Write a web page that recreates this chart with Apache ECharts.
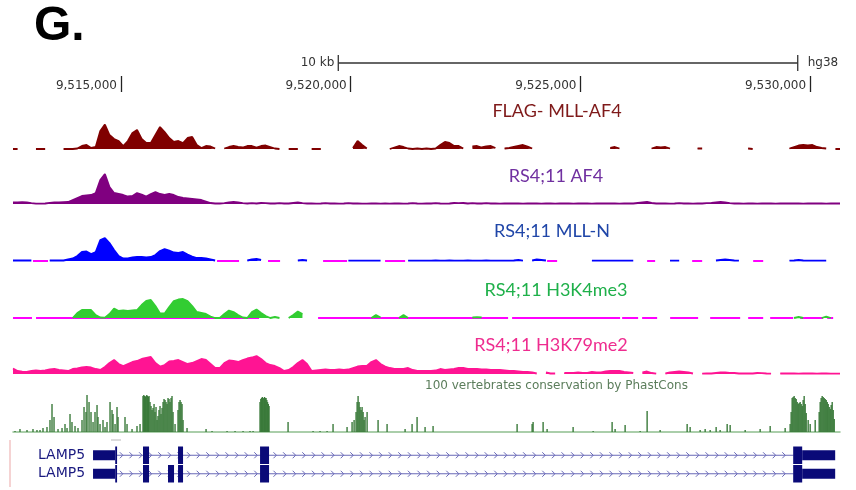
<!DOCTYPE html>
<html><head><meta charset="utf-8">
<script src="https://cdn.jsdelivr.net/npm/echarts@6/dist/echarts.min.js"></script>
<style>html,body{margin:0;padding:0;background:#fff}#c{width:856px;height:490px}</style>
</head><body><div id="c"></div>
<script>
// ---------------- DATA ----------------
const X_MIN = 9512650, X_MAX = 9530650;      // visible genomic window (hg38, chr20)
const BIN_START = 9512650, BIN_SIZE = 100;   // signal bins (bp)
const rulerTicks = [9515000, 9520000, 9525000, 9530000];
const scaleBar = [9519730, 9529730];
const scaleLabel = '10 kb';
const assembly = 'hg38';
const panelLetter = 'G.';
const trackLabels = ['FLAG- MLL-AF4', 'RS4;11 AF4', 'RS4;11 MLL-N', 'RS4;11 H3K4me3', 'RS4;11 H3K79me2'];
const consLabel = '100 vertebrates conservation by PhastCons';
const geneRows = ['LAMP5', 'LAMP5'];

const flagValues = [
  0, 0, null, null, null, 0, 0, 0, null, null,
  null, 0, 0, 0, 0.5, 3, 4, 1, 2, 18,
  24.5, 14, 10, 8, 3, 8, 16, 19, 10, 6,
  6, 14, 22, 17, 11, 7, 8, 6, 11, 12,
  4, 1, 3, 2.5, 0.5, null, 0.5, 2, 3, 2,
  1.5, 3, 3, 1.5, 3, 3.5, 2, 0.5, 0, null,
  0, 0, 0, null, null, 0, 0, 0, null, null,
  null, null, null, null, 1, 8, 4, 0.5, null, null,
  null, null, 0, 1.5, 3, 2, 0.5, 0, 0.5, 0,
  0.5, 0, 0.5, 4, 7, 6, 3, 3, 0.5, null,
  2.5, 3, 1.5, 2.5, 3, 1, null, 0.5, 1, 2,
  3, 4, 2.5, 0.5, null, null, null, null, null, null,
  null, null, null, null, null, null, null, null, null, null,
  1, 2, 0.5, null, null, null, null, null, null, 0.5,
  2, 1.5, 2, 0.5, null, null, null, null, null, 0.5,
  0.5, null, null, null, null, null, null, null, null, null,
  0.5, 0, null, null, null, null, null, null, null, 0.5,
  2, 3.5, 4, 3.5, 4, 2, 1, 0.5, null, 0, 0
];

const af4Values = [
  1.5, 1.5, 1.8, 1.5, 0.8, 0.3, 0.3, 0.5, 1.2, 1.5,
  1.5, 1.8, 2, 4, 6, 8, 8.5, 9, 11, 24,
  30, 17, 11, 10, 9, 7.5, 8, 11, 9.5, 7.5,
  10, 12, 10, 9, 10, 9, 7, 6, 5.5, 5,
  4.5, 4, 2.5, 1, 0.5, 0.5, 0.8, 1.5, 2, 1.5,
  0.8, 0.5, 0.8, 0.5, 1, 0.8, 0.5, 0.5, 0.8, 0.5,
  0.5, 1, 1.5, 0.8, 0.5, 0.5, 0.3, 0.5, 0.8, 0.5,
  0.5, 0.3, 0.5, 0.8, 0.5, 0.5, 0.3, 0.3, 0.5, 0.5,
  0.3, 0.5, 0.3, 0.5, 0.5, 0.3, 0.5, 0.8, 0.5, 0.3,
  0.5, 0.5, 0.8, 0.5, 0.3, 0.5, 1, 0.8, 1, 0.5,
  0.8, 0.5, 0.5, 0.8, 0.5, 0.5, 0.3, 0.5, 0.5, 0.5,
  0.5, 0.3, 0.5, 0.5, 0.5, 0.3, 0.5, 0.5, 0.3, 0.5,
  0.5, 0.5, 0.3, 0.5, 0.5, 0.5, 0.3, 0.5, 0.5, 0.5,
  0.5, 0.5, 0.3, 0.5, 0.5, 0.5, 1, 1.5, 2, 1,
  0.5, 0.5, 0.5, 0.3, 0.5, 0.8, 0.5, 0.5, 0.3, 0.5,
  0.5, 0.8, 1, 1.5, 2, 1.5, 0.8, 0.5, 0.5, 0.3,
  0.5, 0.5, 0.3, 0.5, 0.5, 0.5, 0.3, 0.5, 0.5, 0.5,
  0.5, 0.5, 0.3, 0.5, 0.5, 0.5, 0.5, 0.3, 0.5, 0.5, 0.5
];

const mllnValues = [
  0.5, 0.5, 0.5, 0.5, 0.5, null, null, null, 0.5, 0.5,
  0.5, 0.5, 1.5, 2.5, 5, 9, 9.5, 7, 9, 21,
  23, 18, 11, 5, 2.5, 2.5, 3.5, 4, 4, 3.5,
  4, 6, 10, 12, 10.5, 8.5, 8, 9, 6.5, 4.5,
  3, 3, 2.5, 1.5, 0.5, null, null, null, null, null,
  null, 0.5, 1.5, 2, 1, null, null, null, null, null,
  null, null, 0.5, 1, 0.5, null, null, null, null, null,
  null, null, null, 0.3, 0.3, 0.3, 0.3, 0.3, 0.3, 0.3,
  0.3, null, null, null, null, null, 0.3, 0.3, 0.3, 0.3,
  0.3, 0.3, 0.5, 0.3, 0.3, 0.5, 0.3, 0.3, 0.3, 0.5,
  0.3, 0.3, 0.3, 0.5, 0.3, 0.3, 0.3, 0.3, 0.3, 0.5,
  1, 0.3, null, 0.5, 1.5, 1, 0.5, null, null, null,
  null, null, null, null, null, null, 0.3, 0.3, 0.3, 0.3,
  0.3, 0.3, 0.3, 0.3, 0.3, 0.3, null, null, null, null,
  null, null, null, 0.3, 0.3, 0.3, null, null, null, null,
  null, null, null, 0.5, 1, 1.5, 1, 0.5, 0.3, null,
  null, null, null, null, null, null, null, null, null, 0.3,
  0.5, 1, 0.5, 0.3, 0.3, 0.3, 0.3, 0.3, null, null, null
];
const mllnMagentaSegs = [
  [9513085, 9513412], [9517091, 9517570], [9518201, 9518463], [9519399, 9519921],
  [9520748, 9521184], [9524275, 9524493], [9526452, 9526626], [9527432, 9527650],
  [9528760, 9528978]
];

const k4Values = [
  null, null, null, null, null, null, null, null, null, null,
  null, null, null, 0, 5, 8, 8, 8, 3, 0.5,
  0.3, 4, 9.5, 7, 7.5, 7, 7.5, 8, 13, 17,
  18, 12, 4.5, 4.5, 11, 17, 18.5, 19, 17, 12,
  6, 5, 4, 1.5, 0, 0, 4, 7.5, 6, 3,
  0.5, 0, 6, 8.5, 5, 2, 0, 1, 0, null,
  0, 3, 6.5, 4, null, null, null, null, null, null,
  null, null, null, null, null, null, null, null, 0, 3,
  0.5, null, null, null, 0, 3, 0, null, null, null,
  null, null, null, null, null, null, null, null, null, null,
  0.5, 0.8, 0.5, null, null, null, null, null, null, null,
  null, null, null, null, null, null, null, null, null, null,
  null, null, null, null, null, null, null, null, null, null,
  null, null, null, null, null, null, null, null, null, null,
  null, null, null, null, null, null, null, null, null, null,
  null, null, null, null, null, null, null, null, null, null,
  null, null, null, null, null, null, null, null, null, null,
  0, 1, 0, null, null, null, 0, 1.5, 0, null, null
];
const k4MagentaSegs = [
  [9512650, 9513063], [9513151, 9518007], [9519290, 9523426], [9523513, 9525864],
  [9525908, 9526256], [9526343, 9526670], [9526953, 9527562], [9527824, 9528477],
  [9528651, 9528978], [9529130, 9529631], [9529783, 9530284], [9530371, 9530501]
];

const k79Values = [
  5.5, 3, 2.3, 2, 3, 3.5, 3, 3.5, 4.5, 5,
  4, 3.5, 3, 5, 5.5, 6.5, 7, 6.5, 5, 4,
  7, 11, 14, 10, 8, 10, 12, 13, 15, 16,
  17, 11, 7.5, 9, 12.5, 13, 14, 12, 10, 11,
  13, 15, 14, 10, 6, 6, 11, 13.5, 13, 12,
  14, 15.5, 16.5, 18, 15, 11, 9, 8, 6, 3,
  4, 7, 11, 14, 10, 3, 3.5, 4, 4.5, 4,
  4, 4.5, 4, 4.5, 6, 7.5, 8, 8, 12, 14,
  10, 7.5, 6, 5, 5, 5, 6, 4, 3, 3,
  3, 3, 3.5, 5, 4, 4.5, 5, 6, 6, 5,
  5, 5, 4.5, 4.5, 4, 4, 4, 3.5, 3, 3,
  2.5, 2, 2, 1.5, 0.5, null, 1.5, 0.5, 0.5, null,
  1, 1, 1, 1.5, 1, 1, 2, 1.5, 1.5, 2.5,
  3, 3, 3, 2, 1.5, 1, null, 1.5, 2.5, 1,
  0.3, null, 0.5, 1.5, 2, 2.5, 2, 1.5, 0.5, null,
  0.3, 0.5, 0.5, 1, 1.5, 1.5, 1, 1, 0.5, 0.5,
  0.5, 0.5, 1, 0.8, 0.5, 0.3, null, 0.5, 0.5, 0.5,
  0.5, 0.3, 0.5, 0.5, 0.5, 0.3, 0.5, 0.5, 0.3, 0.3, 0.3
];

const consData = [
  [9512694, 1], [9512802, 3], [9512955, 2], [9513085, 3], [9513172, 2], [9513238, 2],
  [9513303, 4], [9513390, 5], [9513455, 12], [9513499, 28], [9513543, 15], [9513630, 3],
  [9513717, 4], [9513782, 8], [9513826, 4], [9513891, 18], [9513934, 10], [9514000, 6],
  [9514065, 4], [9514152, 12], [9514196, 25], [9514239, 20], [9514261, 37], [9514305, 30],
  [9514348, 20], [9514392, 10], [9514435, 20], [9514479, 27], [9514500, 15], [9514544, 8],
  [9514609, 12], [9514653, 5], [9514696, 10], [9514762, 30], [9514805, 22], [9514827, 18],
  [9514871, 8], [9514914, 25], [9514936, 15], [9515088, 15], [9515132, 8], [9515241, 3],
  [9515349, 6], [9515415, 8], [9515480, 36], [9515497, 37], [9515513, 36], [9515530, 35],
  [9515545, 36], [9515562, 37], [9515578, 36], [9515595, 35], [9515611, 36], [9515632, 30],
  [9515654, 26], [9515676, 22], [9515698, 24], [9515720, 28], [9515741, 20], [9515763, 25],
  [9515785, 12], [9515806, 16], [9515828, 22], [9515850, 26], [9515872, 18], [9515894, 24],
  [9515916, 30], [9515937, 33], [9515959, 32], [9515981, 30], [9516003, 28], [9516024, 34],
  [9516046, 33], [9516068, 30], [9516090, 34], [9516111, 36], [9516133, 20], [9516177, 8],
  [9516242, 22], [9516264, 30], [9516286, 32], [9516307, 30], [9516329, 28], [9516351, 12],
  [9516438, 4], [9516852, 3], [9516982, 1], [9517309, 1],
  [9517483, 1], [9517657, 1], [9517809, 1], [9517875, 1], [9518027, 30], [9518044, 33], [9518060, 34],
  [9518077, 35], [9518093, 33], [9518109, 34], [9518125, 35], [9518142, 34], [9518158, 34],
  [9518174, 32], [9518190, 30], [9518207, 28], [9518223, 26], [9518637, 10],
  [9519181, 1], [9519333, 1], [9519486, 1], [9519616, 8], [9519921, 5], [9520030, 10],
  [9520074, 12], [9520117, 20], [9520140, 30], [9520161, 36], [9520183, 30], [9520204, 25],
  [9520226, 22], [9520248, 25], [9520270, 20], [9520291, 12],
  [9520313, 15], [9520357, 20], [9520596, 12], [9520792, 8], [9521184, 3], [9521336, 8],
  [9521445, 15], [9521619, 5], [9521793, 6], [9523622, 8], [9523949, 8], [9523970, 10],
  [9524188, 10], [9524275, 3], [9524841, 5], [9525277, 1], [9525690, 10], [9525755, 3],
  [9525973, 7], [9526300, 1], [9526452, 21], [9526735, 2], [9527323, 8], [9527388, 5],
  [9527606, 2], [9527715, 3], [9527824, 2], [9527954, 5], [9528041, 2], [9528194, 8],
  [9528259, 7], [9528586, 2], [9528912, 3], [9529130, 6], [9529456, 4], [9529565, 8],
  [9529587, 20], [9529609, 34], [9529630, 35], [9529652, 36], [9529674, 34], [9529696, 33],
  [9529718, 30], [9529740, 28], [9529761, 29], [9529783, 30], [9529805, 28], [9529827, 26],
  [9529848, 32], [9529870, 36], [9529892, 28], [9529914, 19], [9529957, 12], [9530001, 8],
  [9530110, 12], [9530197, 20], [9530219, 30], [9530240, 34],
  [9530262, 36], [9530284, 35], [9530306, 34], [9530328, 33], [9530350, 32], [9530372, 30],
  [9530393, 28], [9530415, 25], [9530437, 23], [9530458, 27], [9530480, 30], [9530502, 22],
  [9530524, 13]
];

// exons: [start, end, row, coding(1)/UTR(0)]
const geneExons = [
  [9514392, 9514875, 0, 0], [9514875, 9514915, 0, 1], [9515480, 9515611, 0, 1],
  [9516242, 9516351, 0, 1], [9518027, 9518223, 0, 1], [9529631, 9529827, 0, 1],
  [9529827, 9530545, 0, 0],
  [9514392, 9514875, 1, 0], [9514875, 9514915, 1, 1], [9515480, 9515611, 1, 1],
  [9516024, 9516155, 1, 1], [9516242, 9516351, 1, 1], [9518027, 9518223, 1, 1],
  [9529631, 9529827, 1, 1], [9529827, 9530545, 1, 0]
];
// gene body lines: [start, end, row]
const geneIntrons = [[9514900, 9529640, 0], [9514900, 9529640, 1]];

// ---------------- CHART ----------------
const chart = echarts.init(document.getElementById('c'), null, {renderer: 'canvas'});
const grids = [], xAxes = [], yAxes = [], series = [];
function addGrid(g, xa, ya) {
  grids.push(Object.assign({left: 13, right: 16, outerBoundsMode: 'none', containLabel: false}, g));
  const gi = grids.length - 1;
  xAxes.push(Object.assign({type: 'value', min: X_MIN, max: X_MAX, gridIndex: gi, show: false, splitLine: {show: false}}, xa || {}));
  yAxes.push(Object.assign({type: 'value', gridIndex: gi, show: false, splitLine: {show: false}}, ya || {}));
  return gi;
}

// ruler
const rg = addGrid({top: 40, height: 36}, {
  show: true, position: 'bottom',
  axisLine: {show: false},
  axisTick: {show: true, customValues: rulerTicks, length: 16, lineStyle: {color: '#222', width: 1.3}},
  axisLabel: {show: true, customValues: rulerTicks, formatter: v => Number(v).toLocaleString('en-US'),
    align: 'right', verticalAlign: 'middle', margin: 10, padding: [0, 4, 0, 0],
    fontFamily: 'DejaVu Sans', fontSize: 12, color: '#333'}
}, {min: 0, max: 1});
series.push({
  type: 'custom', xAxisIndex: rg, yAxisIndex: rg, data: [scaleBar], encode: {x: [0, 1]}, clip: false, silent: true,
  renderItem: (p, api) => {
    const a = api.coord([api.value(0), 0]), b = api.coord([api.value(1), 0]);
    const y = p.coordSys.y + 23;
    const st = {stroke: '#333', lineWidth: 1.3};
    return {type: 'group', children: [
      {type: 'line', shape: {x1: a[0], y1: y, x2: b[0], y2: y}, style: st},
      {type: 'line', shape: {x1: a[0], y1: y - 8, x2: a[0], y2: y + 8}, style: st},
      {type: 'line', shape: {x1: b[0], y1: y - 8, x2: b[0], y2: y + 8}, style: st},
      {type: 'text', x: a[0] - 4, y: y, style: {text: scaleLabel, align: 'right', verticalAlign: 'middle', font: '12px "DejaVu Sans"', fill: '#333'}},
      {type: 'text', x: b[0] + 10, y: y, style: {text: assembly, align: 'left', verticalAlign: 'middle', font: '12px "DejaVu Sans"', fill: '#333'}}
    ]};
  }
});

function binData(vals) {
  return vals.map((v, i) => [BIN_START + i * BIN_SIZE, v == null ? '-' : v]);
}
function segData(segs) {
  const d = [];
  segs.forEach(s => { d.push([s[0], 0], [s[1], 0], [s[1], '-']); });
  return d;
}
const tracks = [
  {values: flagValues, color: '#800000', top: 119, height: 30},
  {values: af4Values, color: '#800080', top: 170, height: 34},
  {values: mllnValues, color: '#0000ff', top: 231, height: 30, base: mllnMagentaSegs},
  {values: k4Values, color: '#32cd32', top: 290, height: 28, base: k4MagentaSegs},
  {values: k79Values, color: '#ff1493', top: 350, height: 24}
];
tracks.forEach(t => {
  const gi = addGrid({top: t.top, height: t.height}, null, {min: 0, max: t.height});
  if (t.base) {
    series.push({type: 'line', xAxisIndex: gi, yAxisIndex: gi, data: segData(t.base), symbol: 'none',
      connectNulls: false, lineStyle: {color: '#ff00ff', width: 2}, z: 2, silent: true});
  }
  series.push({type: 'line', xAxisIndex: gi, yAxisIndex: gi, data: binData(t.values), symbol: 'none',
    connectNulls: false, lineStyle: {color: t.color, width: 1.8}, areaStyle: {color: t.color, opacity: 1}, z: 3, silent: true});
});

// conservation
const cg = addGrid({top: 392, height: 40}, {show: true, axisLine: {show: true, lineStyle: {color: '#8fbf8f', width: 1.5}}, axisTick: {show: false}, axisLabel: {show: false}}, {min: 0, max: 40});
series.push({type: 'bar', xAxisIndex: cg, yAxisIndex: cg, data: consData, barWidth: 1.4, itemStyle: {color: '#3a7a3a'}, silent: true});

// genes
const gg = addGrid({top: 446, height: 37}, null, {
  type: 'category', data: geneRows, inverse: true, show: true,
  axisLine: {show: false}, axisTick: {show: false},
  axisLabel: {show: true, inside: true, margin: 25, fontFamily: 'DejaVu Sans', fontSize: 14, color: '#1a1a80'}
});
series.push({
  type: 'custom', xAxisIndex: gg, yAxisIndex: gg, data: geneIntrons, encode: {x: [0, 1], y: 2}, silent: true, z: 2,
  renderItem: (p, api) => {
    const s = api.coord([api.value(0), api.value(2)]), e = api.coord([api.value(1), api.value(2)]);
    const st = {stroke: '#6a6ab8', lineWidth: 1, fill: null};
    const ch = [{type: 'line', shape: {x1: s[0], y1: s[1], x2: e[0], y2: s[1]}, style: st}];
    for (let x = s[0] + 6; x < e[0] - 2; x += 9.6) {
      ch.push({type: 'polyline', shape: {points: [[x - 2.5, s[1] - 3], [x + 0.5, s[1]], [x - 2.5, s[1] + 3]]}, style: st});
    }
    return {type: 'group', children: ch};
  }
});
series.push({
  type: 'custom', xAxisIndex: gg, yAxisIndex: gg, data: geneExons, encode: {x: [0, 1], y: 2}, silent: true, z: 3,
  renderItem: (p, api) => {
    const s = api.coord([api.value(0), api.value(2)]), e = api.coord([api.value(1), api.value(2)]);
    const band = api.size([0, 1])[1];
    const h = api.value(3) === 1 ? band - 1 : 10;
    return {type: 'rect', shape: {x: s[0], y: s[1] - h / 2, width: Math.max(e[0] - s[0], 1.8), height: h}, style: {fill: '#0a0a78'}};
  }
});

const labelFont = 'Lato';
const labelSpecs = [
  {x: 557, y: 111, color: '#7f1a1a'},
  {x: 556, y: 176, color: '#7030a0'},
  {x: 552, y: 231, color: '#2046a8'},
  {x: 556, y: 290, color: '#1fb04a'},
  {x: 551, y: 345, color: '#ee2c8f'}
];
const graphics = trackLabels.map((t, i) => ({
  type: 'text', x: labelSpecs[i].x, y: labelSpecs[i].y, silent: true,
  style: {text: t, align: 'center', verticalAlign: 'middle', font: '18px ' + labelFont, fill: labelSpecs[i].color}
}));
graphics.push({type: 'text', x: 425, y: 386, silent: true, style: {text: consLabel, align: 'left', verticalAlign: 'middle', font: '12px "DejaVu Sans"', fill: '#5b7d5b'}});
graphics.push({type: 'text', x: 34, y: 27, silent: true, style: {text: panelLetter, align: 'left', verticalAlign: 'middle', font: 'bold 48px "Liberation Sans"', fill: '#000'}});
graphics.push({type: 'line', silent: true, shape: {x1: 10, y1: 440, x2: 10, y2: 487}, style: {stroke: '#f2c4c4', lineWidth: 1.5}});
graphics.push({type: 'line', silent: true, shape: {x1: 111, y1: 440, x2: 121, y2: 440}, style: {stroke: '#d0d0d0', lineWidth: 1.5}});

chart.setOption({
  animation: false,
  backgroundColor: '#fff',
  grid: grids, xAxis: xAxes, yAxis: yAxes, series: series,
  graphic: graphics
});
</script></body></html>
